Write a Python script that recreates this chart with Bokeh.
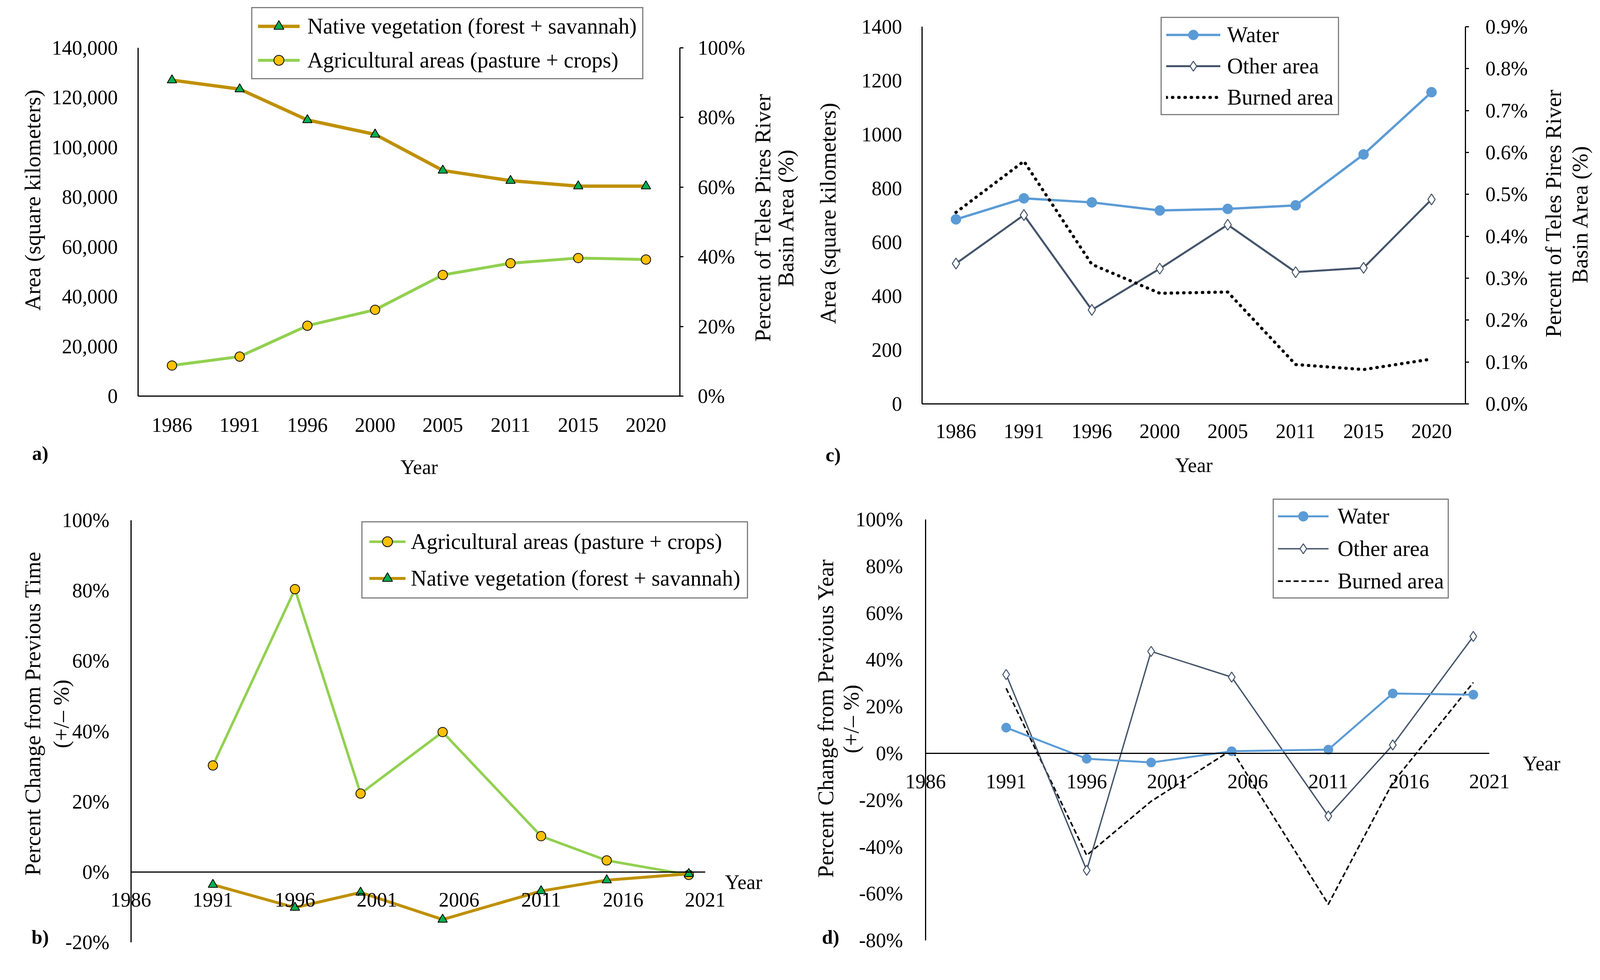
import math
from bokeh.plotting import figure
from bokeh.models import (Range1d, LinearAxis, FixedTicker, NumeralTickFormatter,
                          PrintfTickFormatter, Legend, LegendItem, Label)
from bokeh.layouts import column, row
from bokeh.embed import file_html
from bokeh.resources import INLINE

FONT = "Liberation Serif"
SX = 4096 / 4413.0   # page px per reference px, horizontally
SY = 1.0             # vertically

# ---------------- data ----------------
years = ["1986", "1991", "1996", "2000", "2005", "2011", "2015", "2020"]
native_area = [127000, 123400, 111000, 105200, 90700, 86600, 84400, 84400]
agri_area = [12300, 15900, 28300, 34700, 48700, 53400, 55500, 54900]
water_area = [685, 763, 748, 718, 724, 737, 926, 1157]
other_area = [521, 701, 349, 502, 665, 489, 505, 759]
burned_pct = [0.457, 0.579, 0.333, 0.264, 0.267, 0.094, 0.082, 0.107]

change_years = [1991, 1996, 2000, 2005, 2011, 2015, 2020]
agri_change = [30.3, 80.4, 22.3, 39.8, 10.2, 3.3, -0.8]
native_change = [-3.6, -10.1, -5.8, -13.5, -5.4, -2.3, -0.5]
water_change = [11.0, -2.3, -3.9, 0.9, 1.6, 25.6, 25.1]
other_change = [33.7, -50.0, 43.6, 32.6, -26.8, 3.6, 50.0]
burned_change = [27.8, -43.6, -20.5, 1.5, -64.5, -12.5, 30.3]

area_ticks_a = [0, 20000, 40000, 60000, 80000, 100000, 120000, 140000]
pct_ticks_a = [0, 20, 40, 60, 80, 100]
area_ticks_c = [0, 200, 400, 600, 800, 1000, 1200, 1400]
pct_ticks_c = [0, 0.1, 0.2, 0.3, 0.4, 0.5, 0.6, 0.7, 0.8, 0.9]
change_ticks_b = [-20, 0, 20, 40, 60, 80, 100]
change_ticks_d = [-80, -60, -40, -20, 0, 20, 40, 60, 80, 100]
year_ticks = [1986, 1991, 1996, 2001, 2006, 2011, 2016, 2021]

# category slots for panels a and c
cat_pos = [i + 0.5 for i in range(len(years))]
cat_labels = {p: y for p, y in zip(cat_pos, years)}

C_NATIVE = "#BF9000"
C_NATIVE_M = "#00B050"
C_AGRI = "#92D050"
C_AGRI_M = "#FFC000"
C_WATER = "#5B9BD5"
C_OTHER = "#44546A"

TICK_FS = "52px"
TITLE_FS = "57px"
LEG_FS = "56px"


def rng(edge_lo, edge_hi, p0, v0, p1, v1):
    k = (v1 - v0) / (p1 - p0)
    return Range1d(v0 + (edge_lo - p0) * k, v0 + (edge_hi - p0) * k)


class Panel:
    def __init__(self, x0, x1, y0, y1, xr, yr):
        self.x0, self.x1, self.y0, self.y1 = x0, x1, y0, y1
        p = figure(width=int(round((x1 - x0) * SX)), height=int(round((y1 - y0) * SY)),
                   x_range=xr, y_range=yr, output_backend="svg", toolbar_location=None,
                   x_axis_location=None, y_axis_location=None,
                   min_border=0, min_border_left=0, min_border_right=0,
                   min_border_top=0, min_border_bottom=0)
        p.grid.visible = False
        p.outline_line_color = None
        p.background_fill_color = "white"
        p.border_fill_color = "white"
        self.p = p

    def text(self, x, y, t, angle=0.0, size=TITLE_FS, bold=False):
        self.p.add_layout(Label(x=(x - self.x0) * SX, y=(self.y1 - y) * SY, x_units="screen",
                                y_units="screen", text=t, angle=angle, text_align="center",
                                text_baseline="middle", text_font=FONT, text_font_size=size,
                                text_color="black",
                                text_font_style="bold" if bold else "normal"))

    def legend(self, items, left, bottom, pad, spacing, gw, standoff):
        leg = Legend(items=items, location=((left - self.x0) * SX, (self.y1 - bottom) * SY),
                     padding=pad, spacing=spacing, margin=0,
                     glyph_width=gw, glyph_height=64, label_height=64,
                     label_standoff=standoff,
                     label_text_font=FONT, label_text_font_size=LEG_FS,
                     label_text_color="black", border_line_color="black",
                     border_line_width=3, background_fill_color="white",
                     background_fill_alpha=1.0)
        self.p.add_layout(leg)


def axis(ax, standoff, tick_out=0):
    ax.axis_line_color = "black"
    ax.axis_line_width = 3
    ax.major_tick_out = tick_out
    ax.major_tick_in = 0
    ax.major_tick_line_width = 3
    ax.major_tick_line_color = "black" if tick_out else None
    ax.minor_tick_line_color = None
    ax.major_label_text_font = FONT
    ax.major_label_text_font_size = TICK_FS
    ax.major_label_text_color = "black"
    ax.major_label_standoff = standoff
    return ax


ROT = math.pi / 2
LX0, LX1, RX0, RX1 = 8 / SX, 2228, 2228, 4400
TY0, TY1, BY0, BY1 = 8, 1250, 1250, 2500

# ---------------- panel a ----------------
A = Panel(LX0, LX1, TY0, TY1, rng(LX0, LX1, 389, 0, 1883, 8), rng(TY1, TY0, 1022, 0, 130, 140000))
pa = A.p
pa.extra_y_ranges = {"pct": rng(TY1, TY0, 1022, 0, 130, 100)}
pa.add_layout(axis(LinearAxis(fixed_location=0, bounds=(0, 140000),
                              ticker=FixedTicker(ticks=area_ticks_a),
                              formatter=NumeralTickFormatter(format="0,0")), 52), "left")
pa.add_layout(axis(LinearAxis(y_range_name="pct", fixed_location=8, bounds=(0, 100),
                              ticker=FixedTicker(ticks=pct_ticks_a),
                              formatter=PrintfTickFormatter(format="%d%%")), 37, 9), "right")
pa.add_layout(axis(LinearAxis(fixed_location=0, bounds=(0, 8), ticker=FixedTicker(ticks=cat_pos),
                              major_label_overrides=cat_labels), 56), "below")

ln_n = pa.line(cat_pos, native_area, line_color=C_NATIVE, line_width=8.5, line_join="round")
sc_n = pa.scatter(cat_pos, native_area, marker="triangle", size=24, fill_color=C_NATIVE_M,
                  line_color="black", line_width=2)
ln_a = pa.line(cat_pos, agri_area, line_color=C_AGRI, line_width=7.5, line_join="round")
sc_a = pa.scatter(cat_pos, agri_area, marker="circle", size=24, fill_color=C_AGRI_M,
                  line_color="black", line_width=2)
A.legend([LegendItem(label="Native vegetation (forest + savannah)", renderers=[ln_n, sc_n]),
          LegendItem(label="Agricultural areas (pasture + crops)", renderers=[ln_a, sc_a])],
         701, 211, 14, 23, 107, 20)
A.text(98, 520, "Area (square kilometers)", angle=ROT)
A.text(2112, 565, "Percent of Teles Pires River", angle=ROT)
A.text(2175, 565, "Basin Area (%)", angle=ROT)
A.text(1164, 1204, "Year", size="52px")
A.text(119, 1168, "a)", size="50px", bold=True)

# ---------------- panel c ----------------
C = Panel(RX0, RX1, TY0, TY1, rng(RX0, RX1, 2551, 0, 4050, 8), rng(TY1, TY0, 1042, 0, 76, 1400))
pc = C.p
pc.extra_y_ranges = {"pct": rng(TY1, TY0, 1042, 0, 76, 0.9)}
pc.add_layout(axis(LinearAxis(fixed_location=0, bounds=(0, 1400),
                              ticker=FixedTicker(ticks=area_ticks_c)), 51), "left")
pc.add_layout(axis(LinearAxis(y_range_name="pct", fixed_location=8, bounds=(0, 0.9),
                              ticker=FixedTicker(ticks=pct_ticks_c),
                              formatter=PrintfTickFormatter(format="%.1f%%")), 42, 9), "right")
pc.add_layout(axis(LinearAxis(fixed_location=0, bounds=(0, 8), ticker=FixedTicker(ticks=cat_pos),
                              major_label_overrides=cat_labels), 52), "below")

ln_w = pc.line(cat_pos, water_area, line_color=C_WATER, line_width=6, line_join="round")
sc_w = pc.scatter(cat_pos, water_area, marker="circle", size=26, fill_color=C_WATER,
                  line_color=C_WATER)
ln_o = pc.line(cat_pos, other_area, line_color=C_OTHER, line_width=5, line_join="round")
sc_o = pc.scatter(cat_pos, other_area, marker="diamond", size=28, fill_color="white",
                  line_color=C_OTHER, line_width=2.5)
ln_b = pc.line(cat_pos, burned_pct, y_range_name="pct", line_color="black", line_width=8,
               line_dash="1 15", line_cap="round", line_join="round")
C.legend([LegendItem(label="Water", renderers=[ln_w, sc_w]),
          LegendItem(label="Other area", renderers=[ln_o, sc_o]),
          LegendItem(label="Burned area", renderers=[ln_b])],
         3209, 303, 11, 16, 139, 18)
C.text(2292, 554, "Area (square kilometers)", angle=ROT)
C.text(4292, 554, "Percent of Teles Pires River", angle=ROT)
C.text(4366, 556, "Basin Area (%)", angle=ROT)
C.text(3301, 1199, "Year", size="52px")
C.text(2306, 1172, "c)", size="50px", bold=True)

# ---------------- panel b ----------------
B = Panel(LX0, LX1, BY0, BY1, rng(LX0, LX1, 369, 1986, 1953, 2021), rng(BY1, BY0, 2241, 0, 1340, 100))
pb = B.p
pb.add_layout(axis(LinearAxis(fixed_location=1986, bounds=(-20, 100),
                              ticker=FixedTicker(ticks=change_ticks_b),
                              formatter=PrintfTickFormatter(format="%d%%")), 55), "left")
pb.add_layout(axis(LinearAxis(fixed_location=0, bounds=(1986, 2021),
                              ticker=FixedTicker(ticks=year_ticks)), 53), "below")

ln_a2 = pb.line(change_years, agri_change, line_color=C_AGRI, line_width=6.5, line_join="round")
sc_a2 = pb.scatter(change_years, agri_change, marker="circle", size=24, fill_color=C_AGRI_M,
                   line_color="black", line_width=2)
ln_n2 = pb.line(change_years, native_change, line_color=C_NATIVE, line_width=7.5, line_join="round")
sc_n2 = pb.scatter(change_years, native_change, marker="triangle", size=24,
                   fill_color=C_NATIVE_M, line_color="black", line_width=2)
B.legend([LegendItem(label="Agricultural areas (pasture + crops)", renderers=[ln_a2, sc_a2]),
          LegendItem(label="Native vegetation (forest + savannah)", renderers=[ln_n2, sc_n2])],
         1005, 1541, 17, 30, 93, 14)
B.text(98, 1835, "Percent Change from Previous Time", angle=ROT)
B.text(177, 1836, "(+/\u2013 %)", angle=ROT)
B.text(2059, 2267, "Year", size="52px")
B.text(119, 2407, "b)", size="50px", bold=True)

# ---------------- panel d ----------------
D = Panel(RX0, RX1, BY0, BY1, rng(RX0, RX1, 2561, 1986, 4116, 2021), rng(BY1, BY0, 1937, 0, 1338, 100))
pd_ = D.p
pd_.add_layout(axis(LinearAxis(fixed_location=1986, bounds=(-80, 100),
                               ticker=FixedTicker(ticks=change_ticks_d),
                               formatter=PrintfTickFormatter(format="%d%%")), 58), "left")
pd_.add_layout(axis(LinearAxis(fixed_location=0, bounds=(1986, 2021),
                               ticker=FixedTicker(ticks=year_ticks)), 54), "below")

ln_b2 = pd_.line(change_years, burned_change, line_color="black", line_width=4,
                 line_dash="13 7", line_join="round")
ln_o2 = pd_.line(change_years, other_change, line_color=C_OTHER, line_width=3.5, line_join="round")
sc_o2 = pd_.scatter(change_years, other_change, marker="diamond", size=26, fill_color="white",
                    line_color=C_OTHER, line_width=2.5)
ln_w2 = pd_.line(change_years, water_change, line_color=C_WATER, line_width=5, line_join="round")
sc_w2 = pd_.scatter(change_years, water_change, marker="circle", size=24, fill_color=C_WATER,
                    line_color=C_WATER)
D.legend([LegendItem(label="Water", renderers=[ln_w2, sc_w2]),
          LegendItem(label="Other area", renderers=[ln_o2, sc_o2]),
          LegendItem(label="Burned area", renderers=[ln_b2])],
         3519, 1541, 10, 19, 130, 23)
D.text(2285, 1847, "Percent Change from Previous Year", angle=ROT)
D.text(2355, 1849, "(+/\u2013 %)", angle=ROT)
D.text(4260, 1963, "Year", size="52px")
D.text(2299, 2407, "d)", size="50px", bold=True)

layout = column(row(pa, pc), row(pb, pd_))
open("out.html", "w").write(file_html(layout, INLINE))
